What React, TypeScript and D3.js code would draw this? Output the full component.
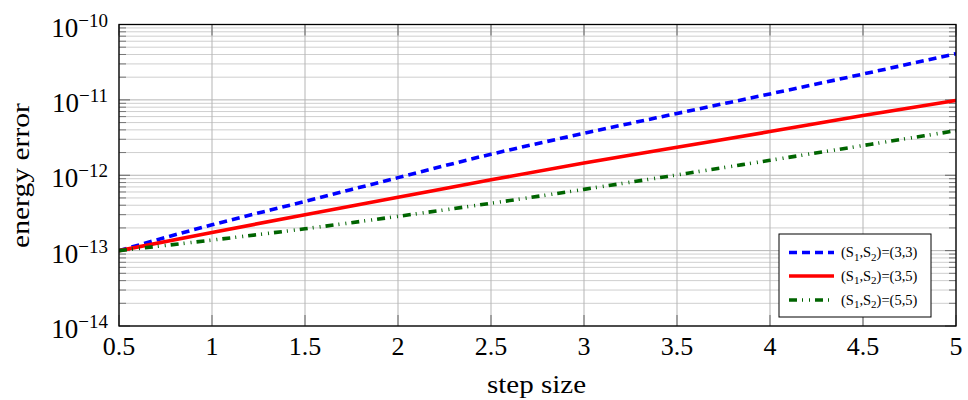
import React from "react";
import * as d3 from "d3";

const stepSizes = [0.5, 1, 1.5, 2, 2.5, 3, 3.5, 4, 4.5, 5];
const errS33 = [1.0e-13, 2.2e-13, 4.5e-13, 9.3e-13, 1.9e-12, 3.6e-12, 6.6e-12, 1.2e-11, 2.2e-11, 4.1e-11];
const errS35 = [1.0e-13, 1.74e-13, 3.0e-13, 5.1e-13, 8.7e-13, 1.45e-12, 2.35e-12, 3.8e-12, 6.2e-12, 9.8e-12];
const errS55 = [1.0e-13, 1.38e-13, 1.95e-13, 2.85e-13, 4.25e-13, 6.5e-13, 1.01e-12, 1.58e-12, 2.48e-12, 3.9e-12];
const seriesNames = ["(S1,S2)=(3,3)", "(S1,S2)=(3,5)", "(S1,S2)=(5,5)"];
const seriesLabels = [
  { s1: "1", s2: "2", val: "(3,3)" },
  { s1: "1", s2: "2", val: "(3,5)" },
  { s1: "1", s2: "2", val: "(5,5)" },
];
const xTicks = [0.5, 1, 1.5, 2, 2.5, 3, 3.5, 4, 4.5, 5];
const xTickLabels = ["0.5", "1", "1.5", "2", "2.5", "3", "3.5", "4", "4.5", "5"];
const yExponents = [-14, -13, -12, -11, -10];
const xLabel = "step size";
const yLabel = "energy error";

const L = 119, R = 956, T = 24.5, B = 326;
const FONT = "'Liberation Serif', 'DejaVu Serif', serif";

export default function App() {
  const x = d3.scaleLinear().domain([0.5, 5]).range([L, R]);
  const y = d3.scaleLog().domain([1e-14, 1e-10]).range([B, T]);

  const minor: number[] = [];
  for (let e = -14; e < -10; e++) {
    for (let m = 2; m <= 9; m++) minor.push(m * Math.pow(10, e));
  }

  const line = d3
    .line<number>()
    .x((_, i) => x(stepSizes[i]))
    .y((d) => y(d))
    .curve(d3.curveMonotoneX);

  const styles = [
    { data: errS33, color: "#0000ff", dash: "8 5" },
    { data: errS35, color: "#ff0000", dash: "" },
    { data: errS55, color: "#006400", dash: "8 5 1 6 1 5" },
  ];

  const legX = 779, legY = 234, legW = 152, legH = 83;
  const entryYs = [252.5, 276, 300];

  return (
    <svg
      width={968}
      height={400}
      style={{ position: "absolute", left: 0, top: 0, background: "#fff" }}
      fontFamily={FONT}
    >
      <rect x={0} y={0} width={968} height={400} fill="#fff" />
      <defs>
        <clipPath id="plotclip">
          <rect x={L} y={T} width={R - L} height={B - T} />
        </clipPath>
      </defs>
      {/* minor grid */}
      {minor.map((v, i) => (
        <line key={"mg" + i} x1={L} x2={R} y1={y(v)} y2={y(v)} stroke="#cfcfcf" strokeWidth={1} />
      ))}
      {/* major grid */}
      {yExponents.map((e) => (
        <line key={"yg" + e} x1={L} x2={R} y1={y(Math.pow(10, e))} y2={y(Math.pow(10, e))} stroke="#b5b5b5" strokeWidth={1} />
      ))}
      {xTicks.map((t) => (
        <line key={"xg" + t} x1={x(t)} x2={x(t)} y1={T} y2={B} stroke="#b5b5b5" strokeWidth={1} />
      ))}
      {/* ticks */}
      {minor.map((v, i) => (
        <g key={"mt" + i}>
          <line x1={L} x2={L + 7} y1={y(v)} y2={y(v)} stroke="#777" strokeWidth={1} />
          <line x1={R - 7} x2={R} y1={y(v)} y2={y(v)} stroke="#777" strokeWidth={1} />
        </g>
      ))}
      {yExponents.map((e) => (
        <g key={"yt" + e}>
          <line x1={L} x2={L + 11} y1={y(Math.pow(10, e))} y2={y(Math.pow(10, e))} stroke="#666" strokeWidth={1} />
          <line x1={R - 11} x2={R} y1={y(Math.pow(10, e))} y2={y(Math.pow(10, e))} stroke="#666" strokeWidth={1} />
        </g>
      ))}
      {xTicks.map((t) => (
        <g key={"xt" + t}>
          <line x1={x(t)} x2={x(t)} y1={B - 11} y2={B} stroke="#666" strokeWidth={1} />
          <line x1={x(t)} x2={x(t)} y1={T} y2={T + 11} stroke="#666" strokeWidth={1} />
        </g>
      ))}
      {/* series */}
      <g clipPath="url(#plotclip)">
        {styles.map((s, i) => (
          <path
            key={seriesNames[i]}
            d={line(s.data) || ""}
            fill="none"
            stroke={s.color}
            strokeWidth={3.6}
            strokeDasharray={s.dash || undefined}
            strokeLinejoin="round"
          />
        ))}
      </g>
      {/* frame */}
      <rect x={L} y={T} width={R - L} height={B - T} fill="none" stroke="#000" strokeWidth={1.3} />
      {/* y tick labels */}
      {yExponents.map((e) => (
        <text key={"yl" + e} x={108} y={y(Math.pow(10, e)) + 12} textAnchor="end" fontSize={27} fill="#000">
          10
          <tspan fontSize={19} dy={-10}>{"\u2212" + Math.abs(e)}</tspan>
        </text>
      ))}
      {/* x tick labels */}
      {xTicks.map((t, i) => (
        <text key={"xl" + t} x={x(t)} y={355} textAnchor="middle" fontSize={26} fill="#000">
          {xTickLabels[i]}
        </text>
      ))}
      {/* axis labels */}
      <text x={(L + R) / 2 - 1} y={393} textAnchor="middle" fontSize={26} fill="#000" textLength={99} lengthAdjust="spacingAndGlyphs">
        {xLabel}
      </text>
      <text
        transform={`translate(29,175.5) rotate(-90)`}
        textAnchor="middle"
        fontSize={26}
        fill="#000"
        textLength={145}
        lengthAdjust="spacingAndGlyphs"
      >
        {yLabel}
      </text>
      {/* legend */}
      <rect x={legX} y={legY} width={legW} height={legH} fill="#fff" stroke="#000" strokeWidth={1} />
      {styles.map((s, i) => (
        <g key={"lg" + i}>
          <line
            x1={789}
            x2={834}
            y1={entryYs[i]}
            y2={entryYs[i]}
            stroke={s.color}
            strokeWidth={3.6}
            strokeDasharray={s.dash || undefined}
          />
          <text x={841} y={entryYs[i] + 4.5} fontSize={14.5} fill="#000">
            (S<tspan fontSize={11} dy={3.5}>{seriesLabels[i].s1}</tspan>
            <tspan dy={-3.5}>,S</tspan>
            <tspan fontSize={11} dy={3.5}>{seriesLabels[i].s2}</tspan>
            <tspan dy={-3.5}>{")=" + seriesLabels[i].val}</tspan>
          </text>
        </g>
      ))}
    </svg>
  );
}
